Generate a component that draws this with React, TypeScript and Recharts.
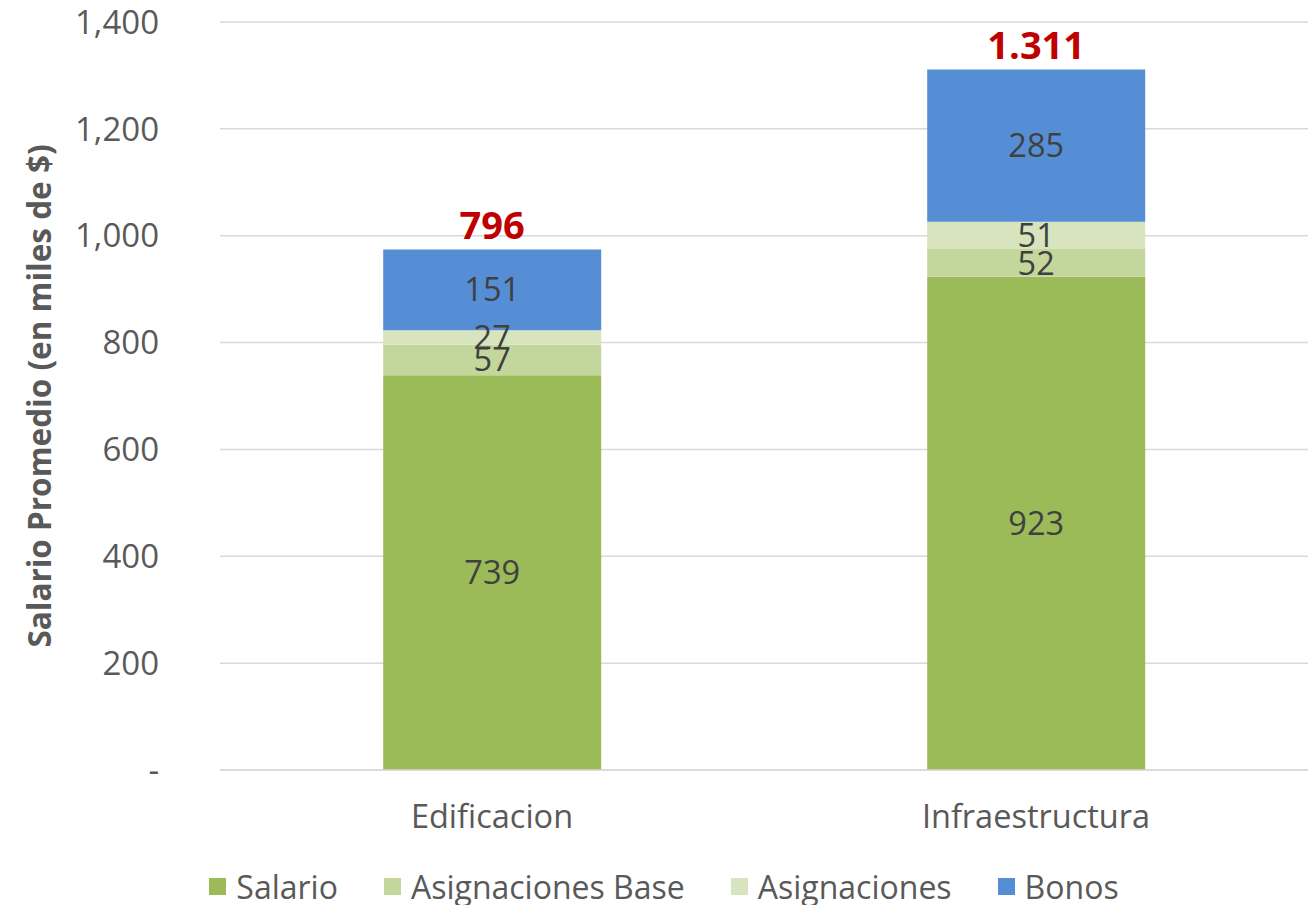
import React from "react"
import {
  BarChart,
  Bar,
  XAxis,
  YAxis,
  CartesianGrid,
  Legend,
  LabelList,
} from "recharts"

const categories = ["Edificacion", "Infraestructura"]
const salario = [739, 923]
const asignacionesBase = [57, 52]
const asignaciones = [27, 51]
const bonos = [151, 285]
const totalLabels = ["796", "1.311"]
const yTicks = [0, 200, 400, 600, 800, 1000, 1200, 1400]

const SERIES = [
  { key: "salario", name: "Salario", color: "#9BBB59" },
  { key: "asignacionesBase", name: "Asignaciones Base", color: "#C3D69B" },
  { key: "asignaciones", name: "Asignaciones", color: "#D7E4BD" },
  { key: "bonos", name: "Bonos", color: "#558ED5" },
]

const FONT = "'Open Sans', sans-serif"
const TEXT = "#595959"

const data = categories.map((name, i) => ({
  name,
  salario: salario[i],
  asignacionesBase: asignacionesBase[i],
  asignaciones: asignaciones[i],
  bonos: bonos[i],
}))

const formatTick = (v: number) => (v === 0 ? "-" : v.toLocaleString("en-US"))

function LegendContent() {
  return (
    <div
      style={{
        display: "flex",
        justifyContent: "center",
        alignItems: "center",
        height: 50,
        gap: 46,
        fontFamily: FONT,
        fontSize: 32,
        color: TEXT,
        paddingLeft: 20,
      }}
    >
      {SERIES.map((s) => (
        <div key={s.key} style={{ display: "flex", alignItems: "center" }}>
          <span
            style={{
              width: 17,
              height: 17,
              background: s.color,
              display: "inline-block",
              marginRight: 10,
            }}
          />
          <span>{s.name}</span>
        </div>
      ))}
    </div>
  )
}

export default function App() {
  return (
    <div style={{ position: "absolute", left: 0, top: 0, background: "#fff" }}>
      <BarChart
        width={1309}
        height={905}
        data={data}
        margin={{ top: 22, right: 1, left: 0, bottom: 0 }}
        barCategoryGap="30%"
      >
        <CartesianGrid vertical={false} stroke="#d9d9d9" strokeWidth={1.5} />
        <XAxis
          dataKey="name"
          height={85}
          axisLine={{ stroke: "#d9d9d9", strokeWidth: 1.5 }}
          tickLine={false}
          tick={{ fill: TEXT, fontSize: 32.5, fontFamily: FONT }}
          dy={27}
        />
        <YAxis
          width={220}
          domain={[0, 1400]}
          ticks={yTicks}
          interval={0}
          axisLine={false}
          tickLine={false}
          tickFormatter={formatTick}
          tick={{ fill: TEXT, fontSize: 33, fontFamily: FONT }}
          dx={-53}
          label={{
            value: "Salario Promedio (en miles de $)",
            angle: -90,
            position: "insideLeft",
            dx: 35,
            style: {
              textAnchor: "middle",
              fill: TEXT,
              fontSize: 31.5,
              fontWeight: "bold",
              fontFamily: FONT,
            },
          }}
        />
        <Legend
          verticalAlign="bottom"
          content={<LegendContent />}
          wrapperStyle={{ height: 50, bottom: -6 }}
        />
        {SERIES.map((s, idx) => (
          <Bar
            key={s.key}
            dataKey={s.key}
            name={s.name}
            stackId="a"
            fill={s.color}
            isAnimationActive={false}
          >
            <LabelList
              dataKey={s.key}
              position="center"
              fill="#404040"
              fontSize={32.5}
              fontFamily={FONT}
            />
            {idx === SERIES.length - 1 && (
              <LabelList
                dataKey={s.key}
                content={(props: any) => {
                  const { x, y, width, index } = props
                  return (
                    <text
                      x={Number(x) + Number(width) / 2}
                      y={Number(y) - 26}
                      textAnchor="middle"
                      dominantBaseline="central"
                      fill="#C00000"
                      fontSize={38}
                      fontWeight="bold"
                      fontFamily={FONT}
                    >
                      {totalLabels[index]}
                    </text>
                  )
                }}
              />
            )}
          </Bar>
        ))}
      </BarChart>
    </div>
  )
}
